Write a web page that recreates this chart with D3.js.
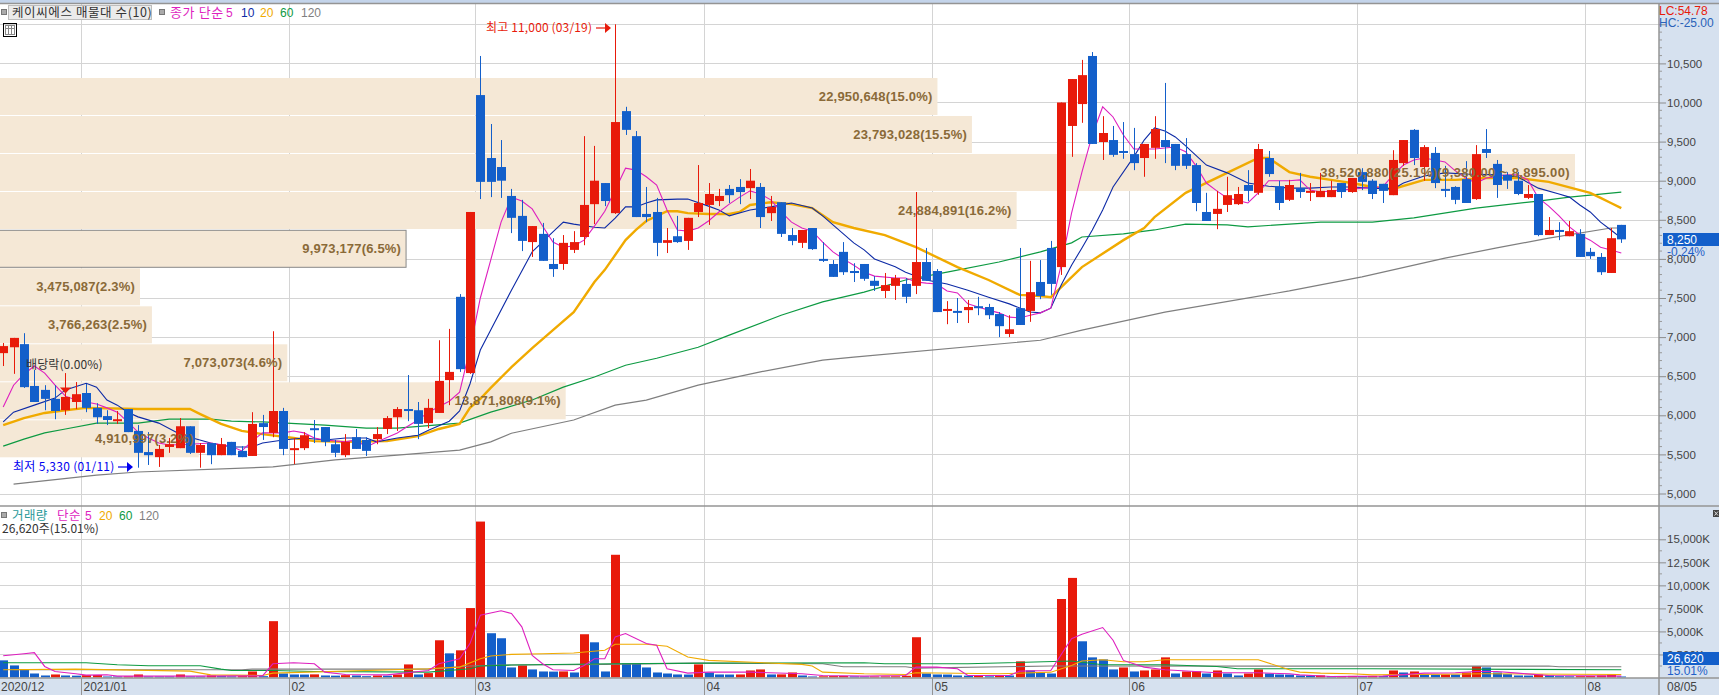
<!DOCTYPE html>
<html><head><meta charset="utf-8">
<script src="https://d3js.org/d3.v7.min.js"></script>
<style>html,body{margin:0;padding:0;background:#fff;overflow:hidden}
svg text{font-family:"Liberation Sans","Noto Sans CJK KR",sans-serif}
.kr{font-family:"Noto Sans CJK KR","Liberation Sans",sans-serif}</style>
</head><body><svg id="c" width="1719" height="695"></svg>
<script>
// ---- candles (won)
const opens=[6795,6870,6910,6375,6325,6210,6065,6170,6285,6095,5990,5940,6080,5800,5530,5465,5595,5580,5860,5520,5645,5490,5660,5545,5480,5900,5775,6055,5570,5580,5835,5850,5630,5490,5720,5685,5695,5825,5975,6080,6065,5900,6030,6450,7515,6540,10095,9290,9175,8805,8550,8215,8320,7935,7935,8115,8280,8700,8970,8585,9890,9570,8575,8600,8205,8290,8230,8600,8690,8740,8895,8920,8905,8920,8585,8725,8305,8205,8395,8000,7935,8090,7845,7935,7720,7590,7655,7680,7655,7960,7845,7335,7335,7345,7395,7385,7295,7040,7370,7335,7705,8140,7895,9700,9980,10595,9495,9520,9380,9340,9290,9420,9520,9470,9340,9200,8600,8575,8690,8700,8945,8845,9290,8930,8755,8905,8855,8790,8790,8970,8855,9110,9000,8960,8815,9225,9650,9175,9355,8895,8920,9020,8765,9405,9215,9075,9000,8780,8830,8305,8370,8290,8320,8090,8025,7820,8435];
const highs=[6925,6990,7050,6580,6385,6385,6540,6425,6400,6155,6065,6055,6080,5875,5785,5620,5710,5965,5860,5645,5645,5710,5660,5605,6040,6005,7075,6095,5710,5785,5940,5850,5685,5760,5825,5720,5850,5990,6105,6515,6170,6210,6960,7105,7550,8600,10595,9725,9520,8895,8755,8420,8460,8265,8305,8355,9570,9445,8970,11000,9945,9635,8920,8780,8395,8550,8525,9200,8970,8895,8945,9020,9150,8970,8805,8725,8395,8370,8395,8215,7985,8215,7945,7935,7780,7820,7795,7755,8855,8140,7870,7460,7500,7475,7515,7425,7320,7280,8140,7975,7985,8230,10000,10300,10545,10645,9825,9700,9750,9675,9470,9825,10250,9470,9545,9225,8845,8870,9050,8920,9135,9470,9380,9000,9010,9100,8970,9100,9000,8970,9035,9160,9020,8960,9390,9520,9660,9455,9430,9190,8930,9250,9455,9660,9265,9110,9110,8945,8830,8535,8470,8485,8380,8140,8075,8395,8435];
const lows=[6630,6530,6350,6170,6065,5950,6005,6080,6040,5890,5875,5890,5785,5330,5365,5340,5520,5580,5505,5330,5375,5490,5490,5465,5480,5685,5720,5490,5375,5555,5645,5605,5465,5465,5570,5480,5630,5760,5800,5925,5695,5835,6030,6130,6555,6530,8765,8790,8780,8330,8100,8025,7975,7770,7860,8075,8175,8445,8675,8575,9585,8535,8470,8035,8075,8205,8115,8535,8435,8675,8715,8700,8765,8395,8485,8280,8175,8140,8115,7960,7770,7795,7705,7720,7590,7500,7475,7435,7550,7720,7320,7165,7180,7180,7280,7230,7000,7000,7155,7195,7485,7540,7795,9305,9740,9470,9265,9305,9280,9135,9050,9280,9225,9135,9150,8610,8485,8380,8600,8690,8740,8820,9050,8625,8740,8780,8740,8790,8790,8780,8845,8880,8765,8715,8815,9190,9200,9000,8905,8790,8700,8715,8755,9290,8780,8895,8815,8765,8290,8305,8240,8290,8025,8000,7795,7820,8205];
const closes=[6885,6990,6360,6170,6210,6055,6235,6270,6095,5975,5940,5950,5785,5520,5490,5570,5630,5860,5520,5620,5490,5630,5490,5465,5890,5850,6055,5570,5580,5745,5810,5660,5520,5660,5570,5545,5760,5965,6080,6065,5890,6095,6440,6555,6590,8600,8985,8985,9000,8525,8230,8420,7975,7870,8205,8215,8690,9000,8740,9750,9650,8535,8535,8205,8240,8215,8525,8715,8830,8805,8815,8855,9000,8535,8665,8320,8230,8370,8125,7975,7770,7830,7820,7745,7655,7665,7755,7515,7960,7720,7320,7360,7320,7385,7385,7280,7140,7100,7155,7575,7525,7680,10000,10300,10350,9470,9610,9330,9355,9225,9470,9660,9430,9190,9190,8715,8485,8640,8815,8830,8870,9405,9085,8715,8945,8855,8870,8870,8880,8855,9035,8985,8830,8870,9265,9520,9290,9430,8970,8880,8755,8715,9340,9355,8945,9000,8830,8830,8305,8370,8345,8355,8025,8035,7830,8265,8250];
// ---- volume in thousand shares
const volumes=[1860,1310,875,435,220,330,220,200,250,270,110,90,120,330,110,100,90,330,110,100,220,150,120,145,655,145,6115,435,330,320,340,220,200,255,220,145,220,200,330,1420,330,475,4040,2620,2950,7535,16925,4805,4260,1090,1310,875,655,640,660,545,4695,3820,655,13320,1530,1510,1090,545,435,330,320,1420,545,330,320,330,765,875,330,340,545,220,110,130,150,160,120,100,110,120,130,190,4370,435,330,320,220,200,210,130,240,220,1750,765,545,435,8520,10810,3930,2185,1965,875,1090,655,765,875,2185,435,655,665,435,765,435,220,435,875,435,330,320,220,210,225,150,160,170,160,170,160,765,545,655,350,320,330,320,545,1240,1090,545,365,220,210,330,220,145,130,145,155,220,330,27];
// ---- price moving averages (session index, won)
const ma5Idx=[0,1,2,3,4,5,6,7,8,9,10,11,12,13,14,15,16,18,20,22,23,24,25,27,28,29,30,31,33,34,35,36,38,39,40,41,43,44,45,46,47,48,49,50,51,52,53,54,55,56,57,58,59,60,61,62,63,64,65,66,67,68,69,70,71,72,73,74,75,76,77,78,79,80,81,82,83,84,86,87,88,89,90,91,92,93,94,95,96,97,98,99,100,101,102,103,104,105,106,107,108,109,111,113,114,115,116,117,118,120,121,122,124,125,126,127,129,131,133,134,135,136,137,138,139,140,141,142,143,145,146,147,148,149,150,151,152,153,154,155,156];
const ma5Val=[6105,6385,6525,6630,6540,6385,6245,6195,6170,6145,6095,6040,5915,5785,5710,5645,5620,5630,5645,5605,5545,5670,5775,5775,5800,5775,5710,5685,5660,5685,5595,5660,5775,5860,5940,6040,6180,6295,6850,7500,7985,8470,8790,8740,8640,8420,8215,8150,8165,8240,8420,8610,8880,9160,9135,9050,8945,8625,8370,8355,8395,8485,8600,8700,8790,8870,8830,8755,8600,8470,8395,8355,8215,8090,8000,7920,7830,7780,7755,7755,7705,7690,7680,7590,7565,7425,7385,7345,7310,7255,7245,7280,7310,7370,7920,8585,9110,9585,9945,9815,9585,9405,9405,9430,9370,9190,8970,8870,8780,8715,8845,9000,9000,9010,8880,8855,8880,8905,8920,9075,9200,9265,9290,9265,9240,9125,9035,8970,9035,9075,9075,9010,8780,8675,8550,8410,8305,8240,8150,8115,8075];
const ma10Idx=[0,1,3,5,6,8,9,10,11,12,13,15,17,18,20,22,24,25,27,29,31,33,35,36,38,40,41,43,44,45,46,47,49,51,53,54,55,57,58,59,60,61,62,63,65,66,68,69,70,72,74,76,78,79,80,82,83,84,86,87,89,91,93,95,97,99,100,101,102,103,104,105,106,107,109,110,111,112,113,114,116,118,120,122,124,126,128,130,132,134,135,137,139,141,144,146,148,150,151,152,153,154,155,156];
const ma10Val=[5915,6040,6130,6220,6325,6410,6360,6195,6130,6040,5980,5900,5760,5720,5645,5595,5595,5645,5685,5710,5685,5710,5710,5660,5710,5745,5810,5925,6055,6400,6835,7090,7600,8090,8345,8470,8445,8405,8395,8520,8665,8665,8715,8755,8765,8765,8675,8625,8550,8625,8665,8715,8650,8550,8435,8205,8115,8000,7900,7830,7730,7680,7600,7510,7425,7320,7310,7370,7665,7920,8140,8370,8625,8920,9305,9520,9675,9635,9560,9445,9200,9100,8970,8930,8905,8905,8920,8920,8905,8895,8970,9060,9100,9085,9075,9050,8905,8830,8790,8690,8600,8470,8370,8265];
const ma20Idx=[0,2,4,6,8,13,18,19,21,23,25,28,30,33,37,40,42,44,45,46,47,49,51,53,55,57,58,60,61,62,64,65,66,68,70,71,72,74,76,78,80,82,85,88,92,95,98,100,101,104,108,110,111,114,118,121,122,124,126,128,130,132,134,137,140,143,146,149,152,153,154,155,156];
const ma20Val=[5875,5965,6030,6065,6095,6080,6080,6015,5890,5800,5760,5710,5670,5660,5670,5735,5825,5890,6095,6210,6350,6615,6860,7090,7320,7705,7860,8240,8370,8485,8610,8610,8585,8575,8575,8600,8690,8725,8700,8650,8470,8395,8305,8150,7895,7730,7540,7525,7510,7895,8240,8395,8535,8845,9100,9290,9290,9110,9050,9010,8970,8920,8895,9010,9010,9035,9035,8985,8880,8845,8780,8715,8650];
const ma60Idx=[0,2,4,6,9,13,16,20,22,25,31,35,38,44,47,51,54,57,60,63,67,70,75,79,83,87,91,96,100,103,104,108,111,114,118,120,124,127,132,136,142,148,151,153,156];
const ma60Val=[5605,5695,5775,5825,5900,5900,5950,5950,5925,5915,5875,5835,5835,5900,6040,6195,6360,6490,6640,6730,6870,7025,7280,7450,7575,7730,7830,7960,8090,8205,8280,8320,8370,8445,8435,8410,8445,8470,8470,8525,8650,8740,8790,8815,8855];
const ma120Idx=[1,9,13,26,32,38,44,47,49,55,59,62,67,73,79,82,100,104,112,124,131,139,144,149,155,156];
const ma120Val=[5120,5235,5275,5340,5430,5490,5555,5660,5770,5940,6130,6195,6385,6555,6705,6745,6960,7090,7320,7590,7770,8010,8140,8265,8395,8395];
// ---- volume moving averages (session index, thousand shares)
const vma5Idx=[0,2,3,4,5,7,8,10,11,18,25,26,28,30,31,33,37,41,42,44,45,46,48,49,50,51,52,53,55,56,57,58,59,60,62,63,64,66,68,72,77,79,83,87,88,90,92,93,97,98,101,103,104,106,107,108,110,112,117,121,124,125,128,133,137,140,142,144,146,149,156];
const vma5Val=[2365,2585,2695,1200,655,400,255,290,145,145,180,1490,1600,1490,580,330,290,765,1490,2040,3680,6770,7245,6950,5500,2400,1490,840,765,1310,2040,2040,4405,4770,3680,3495,945,475,580,580,400,220,145,220,1130,1130,945,220,220,690,765,4220,4695,5425,4040,1855,1130,840,510,510,400,290,110,145,475,510,655,655,475,220,145];
const vma20Idx=[0,7,18,20,25,26,41,44,46,47,49,52,55,58,59,62,64,66,68,77,78,79,83,87,88,96,101,103,104,106,108,110,112,119,121,124,125,127,130,132,143,156];
const vma20Val=[835,910,690,290,220,475,945,1130,2040,2330,2510,2585,2655,2950,3605,3605,3385,2220,1855,1420,1240,580,400,330,510,400,580,1310,1785,1930,1710,1710,1930,1930,1930,840,580,475,400,290,400,330];
const vma60Idx=[0,8,11,14,19,21,22,26,30,41,45,46,49,59,68,83,85,93,103,106,112,117,119,124,132,156];
const vma60Val=[1600,1600,1385,1275,1275,910,765,765,655,580,945,1240,1350,1490,1565,1600,1490,1490,1785,1385,1385,1200,945,945,945,840];
const vma120Idx=[1,23,24,41,45,48,58,67,79,81,83,87,88,101,124,149,150,156];
const vma120Val=[835,835,910,910,1240,1345,1420,1565,1490,1165,1165,1165,1020,1240,1240,1240,1165,1165];
// ---- volume by price
const zoneVolumes=[22950648,23793028,38520880,24884891,9973177,3475087,3766263,7073073,13871808,4910997];
const zonePercents=["15.0","15.5","25.1","16.2","6.5","2.3","2.5","4.6","9.1","3.2"];
const zoneRanges=["","","(9,380.00 ~ 8,895.00)","","","","","","",""];
const currentZone=4;
// ---- axes
const priceTicks=[5000,5500,6000,6500,7000,7500,8000,8500,9000,9500,10000,10500,11000];
const volumeTicks=[2500,5000,7500,10000,12500,15000];
const monthIdx=[8,28,46,68,90,109,131,153];
const monthLabels=["2021/01","02","03","04","05","06","07","08"];

const n=opens.length, W=1719, H=695, axisX=1659;
const x=d3.scaleLinear().domain([0,156]).range([3.2,1621.3]);
const y=d3.scaleLinear().domain([5000,11000]).range([493.5,24.3]);
const v=d3.scaleLinear().domain([0,15000]).range([677.5,539.3]);
const zx=d3.scaleLinear().domain([0,38520880]).range([-2.3,1575]);
const RED="#e81a0a",BLUE="#135fca",NAVY="#0d2aa6",MAG="#de1fbf",ORG="#f0aa00",GRN="#0d9a42",GRY="#7f7f7f",PANEL="#d6e1ef",GRID="#d4d4d4",EDGE="#949494";
const svg=d3.select("#c");
const gridX=i=>Math.round(x(i)-5)+.5;

// panels
svg.append("rect").attr("width",W).attr("height",3).attr("fill","#c4d4ea");
svg.append("rect").attr("x",axisX).attr("y",3).attr("width",W-axisX).attr("height",H-3).attr("fill",PANEL);
svg.append("rect").attr("y",678).attr("width",W).attr("height",H-678).attr("fill",PANEL);

// grid
const gridG=svg.append("g").attr("stroke",GRID).attr("stroke-width",1);
gridG.selectAll(".gp").data(priceTicks).join("line").attr("x1",0).attr("x2",axisX).attr("y1",d=>Math.round(y(d))+.5).attr("y2",d=>Math.round(y(d))+.5);
gridG.selectAll(".gv").data(volumeTicks).join("line").attr("x1",0).attr("x2",axisX).attr("y1",d=>Math.round(v(d))+.5).attr("y2",d=>Math.round(v(d))+.5);
gridG.selectAll(".gm").data(monthIdx).join("line").attr("x1",gridX).attr("x2",gridX).attr("y1",4).attr("y2",678);

// volume-by-price zones
const zoneTop=i=>78+i*38;
const zones=svg.append("g");
zones.selectAll("rect").data(zoneVolumes).join("rect")
 .attr("x",-2).attr("y",(d,i)=>zoneTop(i)+(i>=4?.3:0)).attr("width",d=>zx(d)+2).attr("height",37)
 .attr("fill","#f5e8d6").attr("stroke",(d,i)=>i===currentZone?"#888":"none").attr("stroke-width",1);

// price moving averages
const lineP=(ix,vals,s,w)=>svg.append("path").datum(vals).attr("fill","none").attr("stroke",s).attr("stroke-width",w)
 .attr("d",d3.line().x((d,k)=>x(ix[k])).y(d=>y(d)));
lineP(ma120Idx,ma120Val,GRY,1.2);
lineP(ma60Idx,ma60Val,GRN,1.2);
lineP(ma20Idx,ma20Val,ORG,2.4);
lineP(ma10Idx,ma10Val,NAVY,1.1);
lineP(ma5Idx,ma5Val,MAG,1.1);

// candles
const cg=svg.append("g");
d3.range(n).forEach(i=>{
 const up=closes[i]>opens[i], col=up?RED:BLUE, cx=Math.round(x(i))+.5;
 cg.append("line").attr("x1",cx).attr("x2",cx).attr("y1",y(highs[i])).attr("y2",y(lows[i])).attr("stroke",col).attr("stroke-width",1);
 const t=y(Math.max(opens[i],closes[i])), b=y(Math.min(opens[i],closes[i]));
 cg.append("rect").attr("x",cx-4.5).attr("width",9).attr("y",t).attr("height",Math.max(2,b-t)).attr("fill",col);
});

// volume bars & lines
svg.append("g").selectAll("rect").data(volumes).join("rect")
 .attr("x",(d,i)=>Math.round(x(i))+.5-4.5).attr("width",9)
 .attr("y",d=>Math.min(v(d),676.5)).attr("height",d=>Math.max(1,v(0)-v(d)))
 .attr("fill",(d,i)=>i>0&&d>volumes[i-1]?RED:BLUE);
const lineV=(ix,vals,s)=>svg.append("path").datum(vals).attr("fill","none").attr("stroke",s).attr("stroke-width",1.1)
 .attr("d",d3.line().x((d,k)=>x(ix[k])).y(d=>v(d)));
lineV(vma120Idx,vma120Val,GRY);
lineV(vma60Idx,vma60Val,GRN);
lineV(vma20Idx,vma20Val,ORG);
lineV(vma5Idx,vma5Val,MAG);

// zone labels
svg.append("g").selectAll("text").data(zoneVolumes).join("text")
 .attr("x",d=>zx(d)-5).attr("y",(d,i)=>zoneTop(i)+23).attr("text-anchor","end")
 .attr("fill","#8a6a38").attr("font-size",13).attr("font-weight","bold").attr("letter-spacing",(d,i)=>zoneRanges[i]?.38:.18)
 .text((d,i)=>d3.format(",")(d)+"("+zonePercents[i]+"%)"+zoneRanges[i]);

// separators
const sep=svg.append("g").attr("stroke",EDGE).attr("stroke-width",1.5);
sep.append("line").attr("x1",0).attr("x2",W).attr("y1",3.5).attr("y2",3.5);
sep.append("line").attr("x1",0).attr("x2",W).attr("y1",506).attr("y2",506);
sep.append("line").attr("x1",0).attr("x2",W).attr("y1",678).attr("y2",678);
sep.append("line").attr("x1",axisX).attr("x2",axisX).attr("y1",3).attr("y2",H);
sep.selectAll(".m").data(monthIdx).join("line").attr("x1",gridX).attr("x2",gridX).attr("y1",678).attr("y2",H).attr("stroke-width",1);

// right axes
const styleAxis=g=>{g.select(".domain").remove();
 g.selectAll(".tick line").attr("stroke","#8c8c8c");
 g.selectAll(".tick text").attr("fill","#444").attr("font-size",11.5).attr("font-family",'"Liberation Sans",sans-serif').attr("x",8);};
svg.append("g").attr("transform",`translate(${axisX},0)`).call(
 d3.axisRight(y).tickValues(priceTicks).tickSize(7).tickFormat(d=>d===11000?"":d3.format(",")(d))).call(styleAxis);
svg.append("g").attr("transform",`translate(${axisX},0)`).call(
 d3.axisRight(v).tickValues(volumeTicks).tickSize(7).tickFormat(d=>d3.format(",")(d)+"K")).call(styleAxis);
const priceMinor=d3.range(5000,11000,100).filter(p=>p%500);
svg.append("g").selectAll("line").data(priceMinor).join("line").attr("x1",axisX).attr("x2",axisX+3).attr("y1",d=>y(d)).attr("y2",d=>y(d)).attr("stroke","#9a9a9a");
const volMinor=[1250,3750,6250,8750,11250,13750,16250];
svg.append("g").selectAll("line").data(volMinor).join("line").attr("x1",axisX).attr("x2",axisX+3).attr("y1",d=>v(d)).attr("y2",d=>v(d)).attr("stroke","#9a9a9a");

// bottom axis labels
const txt=(t,px,py,fill,size,cls,sp)=>svg.append("text").attr("x",px).attr("y",py).attr("fill",fill).attr("font-size",size||12)
 .attr("class",cls||null).attr("letter-spacing",sp||0).text(t);
txt("2020/12",1,691,"#444",12);
monthIdx.forEach((m,k)=>txt(monthLabels[k],gridX(m)+2,691,"#444",12));
txt("08/05",1667,691,"#444",12);

// header legends
svg.append("rect").attr("x",8.5).attr("y",5.5).attr("width",143).attr("height",14).attr("fill","#ebebeb").attr("stroke","#bdbdbd");
txt("케이씨에스 매물대 수(10)",12,17,"#333",12.5,"kr",.6);
[1,159].forEach(px=>svg.append("rect").attr("x",px+.5).attr("y",9.5).attr("width",5).attr("height",5).attr("fill","#aaa").attr("stroke","#777"));
txt("종가 단순",170,17,MAG,13,"kr",.6);
txt("5",226,17,MAG,12);txt("10",241,17,NAVY,12);txt("20",260,17,ORG,12);txt("60",280,17,GRN,12);txt("120",301,17,GRY,12);
// table icon
const ic=svg.append("g").attr("fill","none");
ic.append("rect").attr("x",3.5).attr("y",23.5).attr("width",13).attr("height",13).attr("stroke","#000");
ic.append("rect").attr("x",5.5).attr("y",25.5).attr("width",9).attr("height",9).attr("stroke","#888");
[8.5,11.5].forEach(px=>ic.append("line").attr("x1",px).attr("x2",px).attr("y1",26).attr("y2",35).attr("stroke","#888"));
ic.append("line").attr("x1",6).attr("x2",15).attr("y1",28.5).attr("y2",28.5).attr("stroke","#888");

// volume legends
svg.append("rect").attr("x",1.5).attr("y",512.5).attr("width",5).attr("height",5).attr("fill","#aaa").attr("stroke","#777");
txt("거래량",12,520,"#2a9a9a",12.5,"kr",.4);txt("단순",57,520,MAG,12.5,"kr",.4);txt("5",85,520,MAG,12);txt("20",99,520,ORG,12);txt("60",119,520,GRN,12);txt("120",139,520,GRY,12);
txt("26,620주(15.01%)",2,533,"#333",12,"kr");

// annotations
txt("배당락(0.00%)",26,369,"#333",12,"kr",.1);
svg.append("path").attr("d","M60,387.5L71,387.5L65.5,393.5Z").attr("fill",RED);
txt("최고 11,000 (03/19)",486,32,RED,12,"kr",.15);
txt("최저 5,330 (01/11)",13,471,"#0000f0",12,"kr",.3);
const arrow=(x0,x1,yy,c)=>{svg.append("line").attr("x1",x0).attr("x2",x1-4).attr("y1",yy).attr("y2",yy).attr("stroke",c).attr("stroke-width",1.2);
 svg.append("path").attr("d",`M${x1-6},${yy-5}L${x1},${yy}L${x1-6},${yy+5}Z`).attr("fill",c);};
arrow(596,611,28,RED);arrow(118,133,467,"#0000f0");

// right side tags
txt("LC:54.78",1659,15,RED,12);txt("HC:-25.00",1659,27,"#2a62b8",12);
svg.append("rect").attr("x",1663).attr("y",233).attr("width",W-1663).attr("height",13).attr("fill",BLUE);
txt("8,250",1667,244,"#fff",12);txt("-0.24%",1667,256,"#1f5fc8",12);
svg.append("rect").attr("x",1663).attr("y",652).attr("width",W-1663).attr("height",13).attr("fill",BLUE);
txt("26,620",1667,663,"#fff",12);txt("15.01%",1667,675,"#1f5fc8",12);
svg.append("rect").attr("x",1713).attr("y",510).attr("width",6).attr("height",7).attr("fill","#444");
svg.append("path").attr("d","M1714.5,511.5L1718,515.5M1718,511.5L1714.5,515.5").attr("stroke","#ddd").attr("fill","none");
</script></body></html>
